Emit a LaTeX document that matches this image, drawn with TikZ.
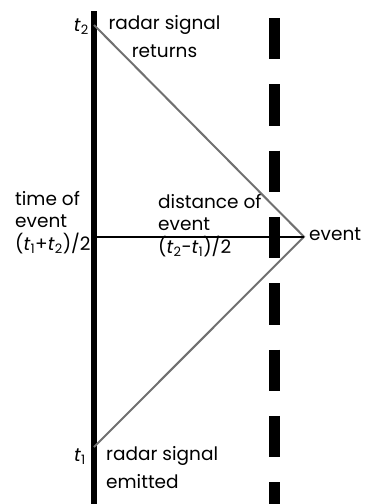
\documentclass[tikz,border=0pt]{standalone}
\usepackage{fontspec}
\setmainfont{Poppins}
\usepackage{tikz}
\definecolor{raygray}{RGB}{112,112,112}
\newcommand{\tsub}[1]{\textit{t}\textsubscript{#1}}

\begin{document}
\begin{tikzpicture}[x=1pt, y=-1pt, font=\fontsize{18.5}{22.5}\selectfont]
        \useasboundingbox (0,0) rectangle (374,504);

        % world lines
        \coordinate (top) at (94,11);
        \coordinate (bottom) at (94,504);
        \coordinate (t2pt) at (94,25);
        \coordinate (t1pt) at (94,447);
        \coordinate (ev) at (304,236.7);
        \coordinate (fartop) at (274.5,18);
        \coordinate (farbottom) at (274.5,504);

        \draw[line width=11pt, dash pattern=on 41.3pt off 25pt] (fartop) -- (farbottom);
        \draw[line width=6pt] (top) -- (bottom);
        \draw[raygray, line width=2pt] (t2pt) -- (ev) -- (t1pt);
        \draw[line width=2.2pt] (ev) -- (ev -| t2pt);

        % labels
        \node[anchor=base east, inner sep=0] (t2lbl) at (89,31) {\tsub{2}};
        \node[anchor=base, inner sep=0, align=center, font=\fontsize{18.5}{27.5}\selectfont] (returns) at (164.5,57) {radar signal\\returns};
        \node[anchor=base west, inner sep=0, align=left] (timelbl) at (15,250) {time of\\event\\(\tsub{1}+\tsub{2})/2};
        \node[anchor=base west, inner sep=0, align=left] (distlbl) at (158,253) {distance of\\event\\(\tsub{2}-\tsub{1})/2};
        \node[anchor=base west, inner sep=0] (evlbl) at (309,240) {event};
        \node[anchor=base east, inner sep=0] (t1lbl) at (86,461) {\tsub{1}};
        \node[anchor=base west, inner sep=0, align=left, font=\fontsize{18.5}{27.5}\selectfont] (emitted) at (106,488) {radar signal\\emitted};
    \end{tikzpicture}
\end{document}
